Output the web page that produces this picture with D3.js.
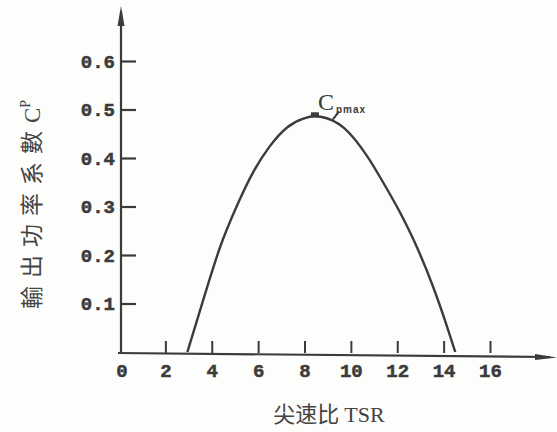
<!DOCTYPE html>
<html>
<head>
<meta charset="utf-8">
<script src="https://cdn.jsdelivr.net/npm/d3@7"></script>
<style>
  body { margin: 0; background: #fdfdfb; }
  svg { display: block; }
</style>
</head>
<body>
<div id="chart"></div>
<script>
// values
var tsr = [2.95, 3.65, 4.35, 5.1, 5.8, 6.5, 7.25, 7.95, 8.45, 8.7, 9.7, 10.7, 11.4, 12.15, 12.85, 13.55, 14.15, 14.5];
var cp  = [0, 0.11, 0.215, 0.303, 0.372, 0.424, 0.463, 0.481, 0.486, 0.485, 0.462, 0.404, 0.349, 0.285, 0.216, 0.134, 0.052, 0];
var xTicks = [2, 4, 6, 8, 10, 12, 14, 16];
var xLabels = ["0", "2", "4", "6", "8", "10", "12", "14", "16"];
var yTicks = [0.1, 0.2, 0.3, 0.4, 0.5, 0.6];
var peak = {x: 8.45, y: 0.486};

var width = 557,
    height = 432,
    ink = "#3b3b3b";

var svg = d3.select("#chart")
    .append("svg")
    .attr("width", width)
    .attr("height", height);

var x = d3.scaleLinear().domain([0, 16]).range([119, 490]);
var y = d3.scaleLinear().domain([0, 0.6]).range([352, 61]);

var axisX = x(0) + 2,
    axisY = y(0) + 1;

// axis lines with arrow heads
svg.append("line")
    .attr("x1", axisX).attr("y1", axisY)
    .attr("x2", axisX).attr("y2", 12)
    .style("stroke", ink).style("stroke-width", 2.2);
svg.append("path")
    .attr("d", "M" + axisX + ",6 L" + (axisX - 3.5) + ",26 L" + (axisX + 3.5) + ",26 Z")
    .style("fill", ink);

svg.append("line")
    .attr("x1", x(0) - 1).attr("y1", axisY)
    .attr("x2", 550).attr("y2", axisY + 4)
    .style("stroke", ink).style("stroke-width", 2.2);
svg.append("path")
    .attr("d", "M557," + (axisY + 4.5) + " L535," + (axisY + 1) + " L535," + (axisY + 7) + " Z")
    .style("fill", ink);

// y ticks pointing into the plot
var gy = svg.append("g")
    .attr("transform", "translate(" + axisX + ",0)")
    .call(d3.axisLeft(y).tickValues(yTicks).tickSizeInner(-15).tickSizeOuter(0).tickPadding(6)
        .tickFormat(d3.format(".1f")));
gy.select(".domain").remove();
gy.selectAll(".tick line").style("stroke", ink).style("stroke-width", 2.2);
gy.selectAll(".tick text")
    .style("font-family", "Liberation Mono, monospace")
    .style("font-weight", "bold")
    .style("font-size", "19px")
    .style("stroke", ink).style("stroke-width", 0.5)
    .style("fill", ink);

// x ticks pointing up
var gx = svg.append("g")
    .attr("transform", "translate(0," + axisY + ")")
    .call(d3.axisBottom(x).tickValues(xTicks).tickSizeInner(-12).tickSizeOuter(0).tickPadding(11)
        .tickFormat(d3.format("d")));
gx.select(".domain").remove();
gx.selectAll(".tick line").style("stroke", ink).style("stroke-width", 2);
gx.selectAll(".tick text")
    .style("font-family", "Liberation Mono, monospace")
    .style("font-weight", "bold")
    .style("font-size", "19px")
    .style("stroke", ink).style("stroke-width", 0.5)
    .style("fill", ink);

// the 0 at the origin has no tick
svg.append("text")
    .attr("x", x(0) + 3)
    .attr("y", axisY + 11)
    .attr("dy", "0.71em")
    .attr("text-anchor", "middle")
    .style("font-family", "Liberation Mono, monospace")
    .style("font-weight", "bold")
    .style("font-size", "19px")
    .style("stroke", ink).style("stroke-width", 0.5)
    .style("fill", ink)
    .text(xLabels[0]);

// curve
var pts = tsr.map(function(d, i) { return [d, cp[i]]; });
var line = d3.line()
    .x(function(d) { return x(d[0]); })
    .y(function(d) { return y(d[1]); })
    .curve(d3.curveMonotoneX);

svg.append("path")
    .datum(pts)
    .attr("d", line)
    .style("fill", "none")
    .style("stroke", ink)
    .style("stroke-width", 2.4);

// peak marker and label
svg.append("rect")
    .attr("x", x(peak.x) - 4).attr("y", y(peak.y) - 4)
    .attr("width", 8).attr("height", 5)
    .style("fill", ink);
svg.append("line")
    .attr("x1", x(peak.x) + 18).attr("y1", y(peak.y) + 3)
    .attr("x2", x(peak.x) + 24).attr("y2", y(peak.y) - 5)
    .style("stroke", ink).style("stroke-width", 2);
var lab = svg.append("text")
    .attr("x", x(peak.x) + 3)
    .attr("y", y(peak.y) - 6)
    .style("font-family", "Liberation Serif, serif")
    .style("font-size", "24px")
    .style("fill", ink);
lab.append("tspan").text("C");
lab.append("tspan")
    .attr("dy", 3)
    .attr("dx", 2)
    .style("font-size", "10px")
    .style("font-weight", "bold")
    .style("letter-spacing", "1px")
    .style("font-family", "Liberation Sans, sans-serif")
    .text("pmax");

// axis titles
var ty = svg.append("text")
    .attr("transform", "translate(40,309) rotate(-90)")
    .attr("text-anchor", "start")
    .style("font-family", "Noto Sans CJK TC, sans-serif")
    .style("font-size", "23px")
    .style("letter-spacing", "8px")
    .style("fill", "#444");
ty.append("tspan").text("輸出功率系數");
ty.append("tspan")
    .style("font-family", "Liberation Serif, serif")
    .style("letter-spacing", "0px")
    .text("C");
ty.append("tspan")
    .attr("dy", -10)
    .style("font-family", "Liberation Serif, serif")
    .style("font-size", "14px")
    .style("letter-spacing", "0px")
    .text("P");

var tx = svg.append("text")
    .attr("x", 329)
    .attr("y", 422)
    .attr("text-anchor", "middle")
    .style("font-family", "Noto Sans CJK SC, sans-serif")
    .style("font-size", "22px")
    .style("fill", "#444");
tx.append("tspan").text("尖速比 ");
tx.append("tspan").style("font-family", "Liberation Serif, serif").text("TSR");
</script>
</body>
</html>
